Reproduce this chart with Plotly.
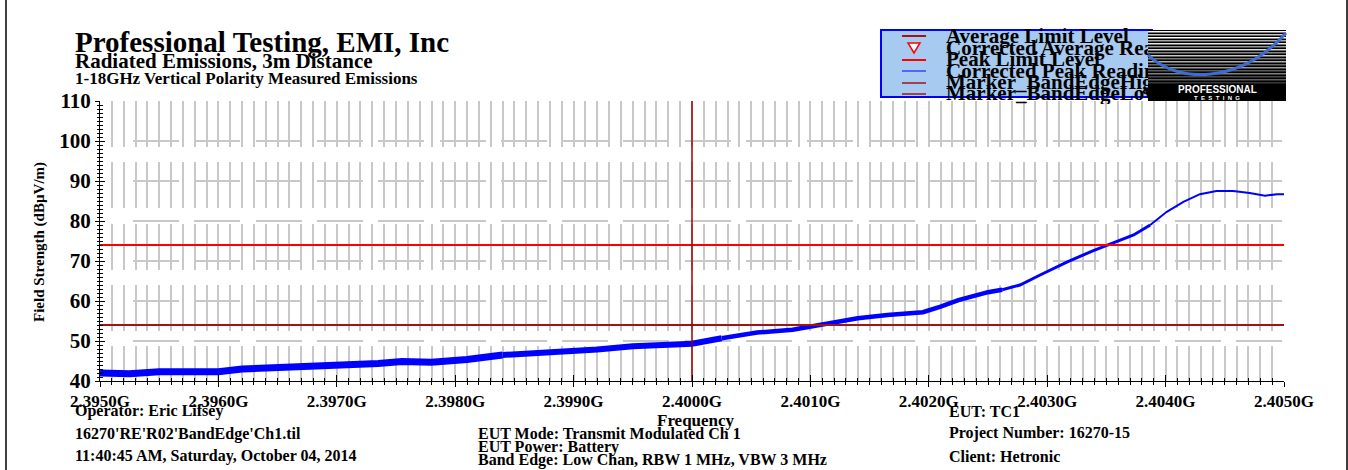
import plotly.graph_objects as go

W, H = 1348, 470
FONT = "Liberation Serif, Times New Roman, serif"

# ---------------- data ----------------
freq_ghz = [2.39500, 2.39525, 2.39550, 2.39580, 2.39600, 2.39620, 2.39650, 2.39680,
            2.39710, 2.39735, 2.39755, 2.39780, 2.39810, 2.39840, 2.39865, 2.39895,
            2.39920, 2.39950, 2.39980, 2.40000, 2.40025, 2.40055, 2.40085, 2.40110,
            2.40140, 2.40165, 2.40195, 2.40210, 2.40225, 2.40250, 2.40262, 2.40277,
            2.40294, 2.40317, 2.40339, 2.40353, 2.40373, 2.40387, 2.40401, 2.40415,
            2.40429, 2.40443, 2.40457, 2.40471, 2.40484, 2.40494, 2.40500]
corrected_peak = [42.0, 41.8, 42.3, 42.5, 42.3, 43.0, 43.4, 43.6,
                  43.8, 44.4, 44.9, 44.7, 45.4, 46.5, 46.9, 47.3,
                  47.9, 48.7, 49.0, 49.3, 50.7, 52.1, 52.8, 54.0,
                  55.7, 56.5, 57.2, 58.6, 60.2, 62.2, 62.8, 64.0,
                  66.5, 69.8, 72.6, 74.2, 76.5, 79.0, 82.3, 84.8,
                  86.7, 87.5, 87.5, 87.0, 86.3, 86.7, 86.7]
peak_limit = 74
average_limit = 54
marker_band_edge_low = 2.400
x_range = [2.395, 2.405]
y_range = [40, 110]

legend_labels = ["Average Limit Level", "Corrected Average Reading", "Peak Limit Level",
                 "Corrected Peak Reading", "Marker_BandEdgeHigh", "Marker_BandEdgeLow"]

title_lines = ["Professional Testing, EMI, Inc", "Radiated Emissions, 3m Distance",
               "1-18GHz Vertical Polarity Measured Emissions"]
info_left = ["Operator: Eric Lifsey", "16270'RE'R02'BandEdge'Ch1.til",
             "11:40:45 AM, Saturday, October 04, 2014"]
info_mid = ["EUT Mode: Transmit Modulated Ch 1", "EUT Power: Battery",
            "Band Edge: Low Chan, RBW 1 MHz, VBW 3 MHz"]
info_right = ["EUT: TC1", "Project Number: 16270-15", "Client: Hetronic"]


def px(x):
    return x / W


def py(y):
    return 1 - y / H


fig = go.Figure()

# noisy trace drawn thicker at the low (noisier) end
width_bands = [(2.3950, 2.3985, 7), (2.3985, 2.4005, 6), (2.4005, 2.4027, 4.5),
               (2.4027, 2.4040, 3), (2.4040, 2.4051, 2)]
for lo, hi, w in width_bands:
    idx = [i for i, f in enumerate(freq_ghz) if lo <= f <= hi]
    if idx and idx[0] > 0:
        idx = [idx[0] - 1] + idx
    fig.add_trace(go.Scatter(x=[freq_ghz[i] for i in idx], y=[corrected_peak[i] for i in idx],
                             mode="lines", line=dict(color="#0000FF", width=w),
                             showlegend=False, hoverinfo="skip"))

fig.add_trace(go.Scatter(x=x_range, y=[average_limit] * 2, mode="lines",
                         line=dict(color="#A01414", width=2), showlegend=False))
fig.add_trace(go.Scatter(x=x_range, y=[peak_limit] * 2, mode="lines",
                         line=dict(color="#FF0000", width=2), showlegend=False))
fig.add_trace(go.Scatter(x=[marker_band_edge_low] * 2, y=y_range, mode="lines",
                         line=dict(color="#A00000", width=1.5), showlegend=False))

# overlay axes for crossing ticks
fig.add_trace(go.Scatter(x=[], y=[], xaxis="x2", yaxis="y2", showlegend=False))

# legend text (clipped by its own subplot at the logo edge)
legend_rows = [38, 50, 61, 73, 84, 95]
fig.add_trace(go.Scatter(x=[0] * len(legend_labels), y=legend_rows, text=legend_labels,
                         mode="text", textposition="middle right", cliponaxis=True,
                         textfont=dict(family=FONT, size=21, color="black", weight="bold"),
                         xaxis="x3", yaxis="y3", showlegend=False, hoverinfo="skip"))

xdom = [px(100), px(1284)]
ydom = [py(381), py(101)]
grid_col = "#C8C8C8"
vdash = "46px,15.3px"
hdash = ",".join(["0px", "33px"] + ["46px,15.3px"] * 21)

fig.update_layout(
    template="none",
    width=W, height=H, margin=dict(l=0, r=0, t=0, b=0, pad=0, autoexpand=False),
    paper_bgcolor="white", plot_bgcolor="rgba(0,0,0,0)",
    showlegend=False,
    xaxis=dict(domain=xdom, range=x_range, anchor="y", tick0=2.395, dtick=0.001,
               automargin=False,
               tickformat=".4f", ticksuffix="G",
               tickfont=dict(family=FONT, size=17, color="black", weight="bold"),
               showline=True, linecolor="black", linewidth=1,
               ticks="outside", ticklen=5, tickcolor="black", tickwidth=1,
               showgrid=True, gridcolor=grid_col, gridwidth=1.5, griddash=vdash,
               zeroline=False,
               minor=dict(dtick=0.0001, tick0=2.395, showgrid=True, gridcolor=grid_col,
                          gridwidth=1.5, griddash=vdash, ticks="outside", ticklen=3,
                          tickcolor="black")),
    yaxis=dict(domain=ydom, range=y_range, anchor="x", dtick=10, tick0=40,
               automargin=False,
               tickfont=dict(family=FONT, size=21, color="black", weight="bold"),
               showline=True, linecolor="black", linewidth=1,
               ticks="outside", ticklen=4, tickcolor="black",
               showgrid=True, gridcolor=grid_col, gridwidth=1.5, griddash=hdash,
               zeroline=False,
               minor=dict(dtick=1, tick0=40, ticks="outside", ticklen=2, tickcolor="black",
                          showgrid=False)),
    xaxis2=dict(domain=xdom, range=x_range, overlaying="x", anchor="y2", side="bottom",
                automargin=False,
                showticklabels=False, showgrid=False, zeroline=False, tick0=2.395,
                dtick=0.001, ticks="inside", ticklen=6, tickcolor="black",
                minor=dict(dtick=0.0001, tick0=2.395, ticks="inside", ticklen=3,
                           tickcolor="black", showgrid=False)),
    yaxis2=dict(domain=ydom, range=y_range, overlaying="y", anchor="x2", side="left",
                automargin=False,
                showticklabels=False, showgrid=False, zeroline=False, dtick=10, tick0=40,
                ticks="inside", ticklen=5, tickcolor="black",
                minor=dict(dtick=1, tick0=40, ticks="inside", ticklen=3,
                           tickcolor="black", showgrid=False)),
    xaxis3=dict(domain=[px(946), px(1148)], range=[0, 202], anchor="y3", visible=False,
                automargin=False),
    yaxis3=dict(domain=[py(104), py(28)], range=[104, 28], anchor="x3", visible=False,
                automargin=False),
)

shapes = []
# legend box
shapes.append(dict(type="rect", xref="paper", yref="paper", x0=px(881), x1=px(1152),
                   y0=py(30), y1=py(97), line=dict(color="#0000FF", width=2),
                   fillcolor="#A6CAF0", layer="below"))
legend_symbols = [(36, "#A01414", 2), (60, "#FF0000", 2), (71, "#0000FF", 1),
                  (83, "#A01414", 1.5), (94, "#A01414", 1.5)]
for yy, col, lw in legend_symbols:
    shapes.append(dict(type="line", xref="paper", yref="paper", x0=px(902), x1=px(926),
                       y0=py(yy), y1=py(yy), line=dict(color=col, width=lw), layer="above"))
shapes.append(dict(type="path", xref="paper", yref="paper",
                   path=f"M{px(908)},{py(43)} L{px(920)},{py(43)} L{px(914)},{py(53)} Z",
                   line=dict(color="#FF0000", width=1.5), fillcolor="white", layer="above"))

# logo
lx0, lx1, ly0, ly1 = 1148, 1286, 30, 101
shapes.append(dict(type="rect", xref="paper", yref="paper", x0=px(lx0), x1=px(lx1),
                   y0=py(ly0), y1=py(ly1), line=dict(width=0), fillcolor="#000000",
                   layer="above"))
stripe_cols = ["#F4F4F4", "#C8C8C8", "#FFFFFF", "#A8A8A8", "#E8E8E8", "#989898",
               "#D8D8D8", "#888888", "#C8C8C8", "#787878", "#B0B0B0", "#686868",
               "#989898", "#585858", "#808080", "#484848", "#606060", "#383838"]
yy = ly0 + 1
for c in stripe_cols:
    shapes.append(dict(type="rect", xref="paper", yref="paper", x0=px(lx0), x1=px(lx1),
                       y0=py(yy), y1=py(yy + 1.4), line=dict(width=0), fillcolor=c,
                       layer="above"))
    yy += 3
shapes.append(dict(type="path", xref="paper", yref="paper",
                   path=(f"M{px(1148)},{py(55)} C{px(1178)},{py(84)} {px(1240)},{py(84)} "
                         f"{px(1286)},{py(33)}"),
                   line=dict(color="#3C6ED2", width=3), layer="above"))

# frame lines
for xx in (6, 1347):
    shapes.append(dict(type="line", xref="paper", yref="paper", x0=px(xx), x1=px(xx),
                       y0=0, y1=1, line=dict(color="black", width=1.5)))

fig.update_layout(shapes=shapes)

annotations = []


def ann(text, x, y, size, xanchor="left", color="black", family=FONT, angle=0):
    annotations.append(dict(text=text, x=px(x), y=py(y), xref="paper", yref="paper",
                            xanchor=xanchor, yanchor="middle", showarrow=False,
                            textangle=angle,
                            font=dict(family=family, size=size, color=color, weight="bold")))


ann(title_lines[0], 73, 42, 29)
ann(title_lines[1], 73, 61, 21)
ann(title_lines[2], 73, 78, 17)
ann("Field Strength (dBµV/m)", 40, 242, 15, xanchor="center", angle=-90)
ann("Frequency", 696, 420, 17, xanchor="center")
for t, yv in zip(info_left, [411, 434, 456]):
    ann(t, 73, yv, 16)
for t, yv in zip(info_mid, [433, 447, 460]):
    ann(t, 476, yv, 16)
for t, yv in zip(info_right, [411, 433, 456]):
    ann(t, 947, yv, 16)
ann("PROFESSIONAL", 1217, 90, 10, xanchor="center", color="white",
    family="Liberation Sans, Arial, sans-serif")
ann("T  E  S  T  I  N  G", 1217, 98, 6, xanchor="center", color="white",
    family="Liberation Sans, Arial, sans-serif")

fig.update_layout(annotations=annotations)

page_css = ("document.documentElement.style.margin='0';document.body.style.margin='0';"
            "document.documentElement.style.overflow='hidden';"
            "document.body.style.overflow='hidden';")
fig.write_html("out.html", post_script=page_css)
